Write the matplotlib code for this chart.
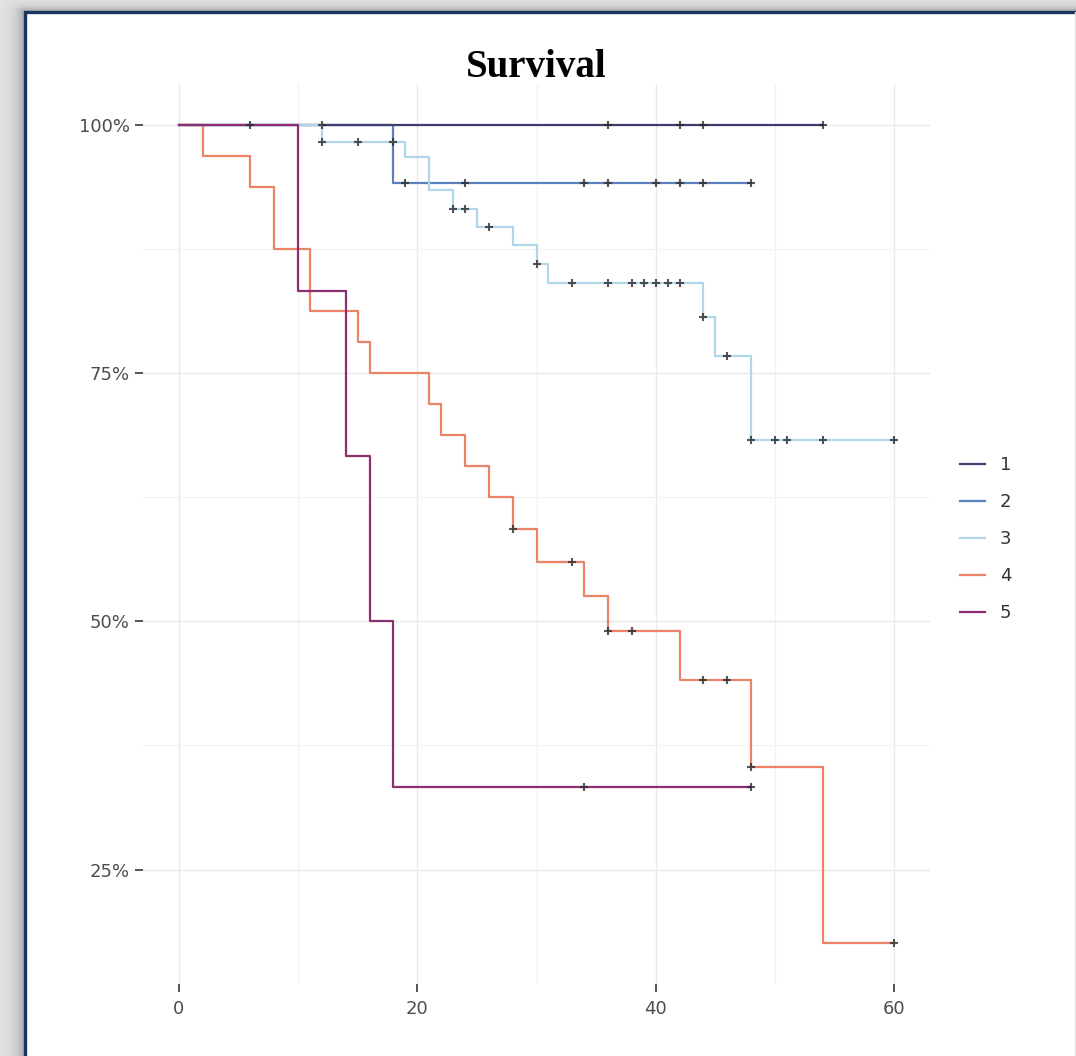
import numpy as np
import matplotlib
matplotlib.use("Agg")
import matplotlib.pyplot as plt
from matplotlib.patches import Rectangle
from matplotlib.ticker import PercentFormatter, MultipleLocator

# Kaplan-Meier estimates per group: step times, survival after each step,
# follow-up end and censoring times
groups = ["1", "2", "3", "4", "5"]

g1_times = [0]
g1_surv = [1.0]
g1_end = 54
g1_cens = [6, 12, 36, 42, 44, 54]

g2_times = [0, 18]
g2_surv = [1.0, 0.941]
g2_end = 48
g2_cens = [19, 24, 34, 36, 40, 42, 44, 48]

g3_times = [0, 12, 19, 21, 23, 25, 28, 30, 31, 44, 45, 48]
g3_surv = [1.0, 0.983, 0.968, 0.934, 0.915, 0.897, 0.879, 0.860, 0.841,
           0.807, 0.767, 0.683]
g3_end = 60
g3_cens = [12, 15, 18, 23, 24, 26, 30, 33, 36, 38, 39, 40, 41, 42, 44, 46,
           48, 50, 51, 54, 60]

g4_times = [0, 2, 6, 8, 11, 15, 16, 21, 22, 24, 26, 28, 30, 34, 36, 42, 48, 54]
g4_surv = [1.0, 0.969, 0.9375, 0.875, 0.8125, 0.781, 0.75, 0.719, 0.6875,
           0.656, 0.625, 0.593, 0.560, 0.526, 0.490, 0.441, 0.353, 0.176]
g4_end = 60
g4_cens = [28, 33, 36, 38, 44, 46, 48, 60]

g5_times = [0, 10, 14, 16, 18]
g5_surv = [1.0, 0.833, 0.667, 0.5, 0.333]
g5_end = 48
g5_cens = [34, 48]

curves = [
    (g1_times, g1_surv, g1_end, g1_cens),
    (g2_times, g2_surv, g2_end, g2_cens),
    (g3_times, g3_surv, g3_end, g3_cens),
    (g4_times, g4_surv, g4_end, g4_cens),
    (g5_times, g5_surv, g5_end, g5_cens),
]
colors = ["#3f3d6d", "#5a80be", "#b0d6ea", "#ec8266", "#8c2f70"]
# group 1 sits above group 2 where they overlap at 100%
line_z = [3.1, 3.0, 3.2, 3.3, 3.4]

W, H = 1076, 1056
fig = plt.figure(figsize=(W / 100, H / 100), dpi=100)

# framed card with a soft drop shadow
bg = fig.add_axes([0, 0, 1, 1])
yy, xx = np.mgrid[0:H, 0:W]
dx = np.clip(24 - xx, 0, None)
dy = np.clip(11 - yy, 0, None)
d = np.hypot(dx, dy * 1.6)
shade = 0.90 - 0.26 * np.exp(-d / 8.0)
shade[(xx >= 24) & (yy >= 11)] = 1.0
bg.imshow(np.dstack([shade] * 3), extent=(0, W, H, 0), interpolation="bilinear")
bg.add_patch(Rectangle((24.5, 11.5), W + 20, H + 20, facecolor="white",
                       edgecolor="#1c3560", linewidth=2.4))
bg.plot([W - 1.5, W - 1.5], [12, H], color="#e2e2e2", lw=1)
bg.set_xlim(0, W)
bg.set_ylim(H, 0)
bg.axis("off")

# plotting panel
left, right, top, bottom = 143, 930, 84, 984
ax = fig.add_axes([left / W, 1 - bottom / H, (right - left) / W, (bottom - top) / H])
ax.set_facecolor("white")

for (times, surv, end, cens), col, name, z in zip(curves, colors, groups, line_z):
    t = np.array(times + [end], dtype=float)
    s = np.array(surv + [surv[-1]], dtype=float)
    ax.step(t, s, where="post", color=col, lw=1.6, label=name, zorder=z)

for times, surv, end, cens in curves:
    idx = np.searchsorted(times, cens, side="right") - 1
    ax.plot(cens, np.array(surv)[idx], linestyle="none", marker="+",
            markersize=6, markeredgewidth=1.5, color="#2a2a2a", alpha=0.8,
            zorder=4)

ymin = min(min(c[1]) for c in curves)
span = 1.0 - ymin
ax.set_xlim(-3, 63)
ax.set_ylim(ymin - 0.05 * span, 1.0 + 0.05 * span)

ax.xaxis.set_major_locator(MultipleLocator(20))
ax.xaxis.set_minor_locator(MultipleLocator(10))
ax.yaxis.set_major_locator(MultipleLocator(0.25))
ax.yaxis.set_minor_locator(MultipleLocator(0.125))
ax.yaxis.set_major_formatter(PercentFormatter(xmax=1, decimals=0))

ax.grid(which="major", color="#e9e9e9", lw=1.0)
ax.grid(which="minor", color="#f2f2f2", lw=0.9)
ax.set_axisbelow(True)
for sp in ax.spines.values():
    sp.set_visible(False)

ax.tick_params(which="major", length=5.5, width=1.3, color="#444444",
               labelsize=13, labelcolor="#4d4d4d", pad=4)
ax.tick_params(axis="x", pad=6)
ax.tick_params(which="minor", length=0)

fig.text((left + right) / 2 / W, 1 - 77 / H, "Survival", ha="center",
         va="baseline", fontsize=28, fontweight="bold",
         family="Liberation Serif")

leg = ax.legend(loc="center left", bbox_to_anchor=(960 / W, 1 - 539 / H),
                bbox_transform=fig.transFigure, frameon=False, fontsize=13,
                handlelength=1.4, handletextpad=0.8, labelspacing=1.05,
                borderpad=0, borderaxespad=0)
for txt in leg.get_texts():
    txt.set_color("#333333")

fig.savefig("out.png", dpi=100)
